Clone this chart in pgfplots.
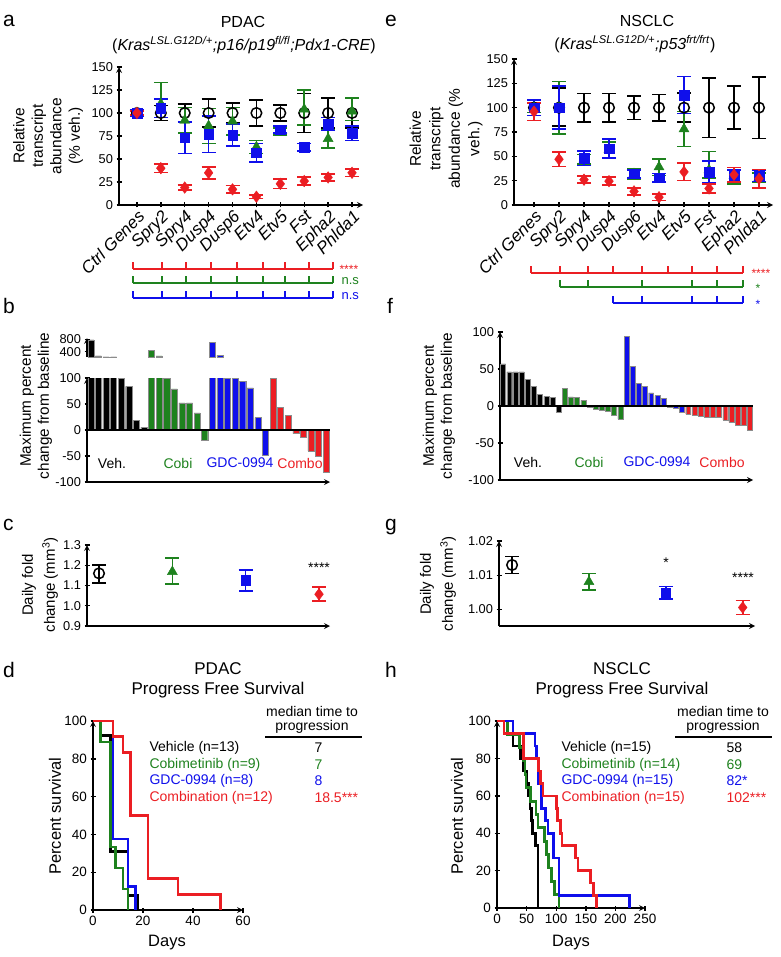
\documentclass[border=0pt]{standalone}
\usepackage{fontspec}
\setmainfont{Liberation Sans}
\usepackage{pgfplots}
\pgfplotsset{compat=1.18}
\definecolor{pgreen}{RGB}{30,130,30}
\definecolor{pblue}{RGB}{15,15,235}
\definecolor{pred}{RGB}{235,30,35}
\newcommand{\fz}[1]{\fontsize{#1}{#1}\selectfont}
\pgfplotsset{
  base/.style={
    scale only axis, anchor=south west,
    axis line style={-, line width=1.6pt},
    tick align=outside, major tick length=5pt,
    every tick/.style={black, line width=1.4pt},
    tick label style={font=\fontsize{12.8}{14}\selectfont},
    /pgf/number format/assume math mode=true,
  },
  errst/.style={/pgfplots/error bars/y dir=both, /pgfplots/error bars/y explicit,
    /pgfplots/error bars/error bar style={line width=1.6pt,#1},
    /pgfplots/error bars/error mark options={rotate=90, mark size=7pt, line width=1.6pt, #1}},
  veh/.style={only marks, mark=o, black, mark size=5.3pt, line width=1.5pt, errst=black},
  cobi/.style={only marks, mark=triangle*, pgreen, mark size=5.8pt, errst=pgreen},
  gdc/.style={only marks, mark=square*, pblue, mark size=4.8pt, errst=pblue},
  combo/.style={only marks, mark=diamond*, pred, mark size=5.8pt, errst=pred},
  bars/.style={ybar, bar width=0.8, bar shift=0pt, fill=#1, draw=black!45, line width=0.4pt},
  km/.style={const plot, line width=2.6pt, #1, mark=none},
  catlab/.style={xtick={0,...,9}, xticklabels={Ctrl Genes,Spry2,Spry4,Dusp4,Dusp6,Etv4,Etv5,Fst,Epha2,Phlda1},
    xticklabel style={rotate=45, anchor=north east, inner sep=1pt, font=\fontsize{17}{17}\selectfont\itshape}},
}
\begin{document}
\begin{tikzpicture}
% ---------------- panel a ----------------
\begin{axis}[base, axis lines=left, at={(119pt,-205pt)}, width=244pt, height=138pt,
  xmin=-0.75, xmax=9.46, ymin=0, ymax=150, ytick={0,25,...,150}, catlab]
\addplot[veh] coordinates {(0,100) +- (0,2) (1,100) +- (0,8) (2,100) +- (0,10) (3,100) +- (0,15) (4,100) +- (0,11) (5,100) +- (0,14) (6,100) +- (0,9) (7,100) +- (0,21) (8,100) +- (0,16) (9,100) +- (0,16)};
\addplot[cobi] coordinates {(0,100) +- (0,2) (1,110) += (0,23) -= (0,15) (2,92) +- (0,14) (3,86) +- (0,19) (4,91) +- (0,15) (5,63) +- (0,7) (6,80) +- (0,4) (7,104) += (0,21) -= (0,17) (8,72) +- (0,10) (9,102) += (0,14) -= (0,10)};
\addplot[gdc] coordinates {(0,100) +- (0,3) (1,105) +- (0,10) (2,73) +- (0,17) (3,77) +- (0,20) (4,76) +- (0,12) (5,57) +- (0,10) (6,82) +- (0,4) (7,63) +- (0,4) (8,88) +- (0,7) (9,78) +- (0,8)};
\addplot[combo] coordinates {(0,100) +- (0,2) (1,40) +- (0,4.5) (2,19) +- (0,3) (3,35) +- (0,6.5) (4,17) +- (0,4) (5,9) +- (0,2) (6,23) +- (0,5) (7,26) +- (0,4.5) (8,30) +- (0,4) (9,35) +- (0,4)};
\end{axis}
% ---------------- panel e ----------------
\begin{axis}[base, axis lines=left, at={(514pt,-205pt)}, width=259pt, height=146pt,
  xmin=-0.8, xmax=9.56, ymin=0, ymax=150, ytick={0,25,...,150}, catlab]
\addplot[veh] coordinates {(0,100) +- (0,8) (1,100) += (0,20) -= (0,19) (2,100) +- (0,14.5) (3,100) +- (0,14.5) (4,100) +- (0,12) (5,100) +- (0,13.5) (6,100) +- (0,15) (7,100) +- (0,30.5) (8,100) +- (0,22) (9,100) +- (0,31.5)};
\addplot[cobi] coordinates {(0,100) +- (0,5) (1,100) +- (0,27) (2,47) +- (0,5) (3,57) +- (0,8) (4,32) +- (0,5.5) (5,39) +- (0,8.5) (6,78) +- (0,18) (7,36) += (0,19) -= (0,8) (8,30) +- (0,8.5) (9,28) +- (0,5)};
\addplot[gdc] coordinates {(0,100) +- (0,8) (1,100) +- (0,22) (2,48) +- (0,7.5) (3,58) +- (0,10) (4,32) +- (0,4) (5,28) +- (0,4.5) (6,113) +- (0,19) (7,34) +- (0,11) (8,30) +- (0,6) (9,30) +- (0,6)};
\addplot[combo] coordinates {(0,96) +- (0,9) (1,47) +- (0,7.5) (2,26) +- (0,3.5) (3,24.5) +- (0,4) (4,14) +- (0,3.5) (5,8) +- (0,3.5) (6,34) +- (0,9) (7,17) +- (0,4.5) (8,31) +- (0,7.5) (9,27) +- (0,9.5)};
\end{axis}
% ---------------- panel b ----------------
\begin{axis}[base, axis lines=left, at={(87pt,-482pt)}, width=243pt, height=104pt,
  xmin=-0.5, xmax=31.5, ymin=-100, ymax=100, ytick={-100,-50,0,50,100},
  yticklabels={-100,-50,0,50,100}, xtick=\empty]
\addplot[bars=black] coordinates {(0,780) (1,270) (2,255) (3,255) (4,100) (5,84) (6,18) (7,5)};
\addplot[bars=pgreen] coordinates {(8,450) (9,270) (10,100) (11,79) (12,52) (13,52) (14,33) (15,-20)};
\addplot[bars=pblue] coordinates {(16,710) (17,280) (18,100) (19,100) (20,93) (21,81) (22,24) (23,-48)};
\addplot[bars=pred] coordinates {(24,100) (25,43) (26,28) (27,-7) (28,-13) (29,-40) (30,-50) (31,-82)};
\draw[line width=1.6pt] (axis cs:-0.5,0) -- (axis cs:31.5,0);
\end{axis}
\begin{axis}[base, axis y line=left, axis x line=none, at={(87pt,-357pt)}, width=243pt, height=19pt,
  xmin=-0.5, xmax=31.5, ymin=230, ymax=840, ytick={400,800}, xtick=\empty]
\addplot[bars=black] coordinates {(0,780) (1,270) (2,236) (3,236)};
\addplot[bars=pgreen] coordinates {(8,450) (9,270)};
\addplot[bars=pblue] coordinates {(16,710) (17,280)};
\end{axis}
% ---------------- panel f ----------------
\begin{axis}[base, axis lines=left, at={(500pt,-480pt)}, width=253pt, height=148pt,
  xmin=-0.5, xmax=40.5, ymin=-100, ymax=100, ytick={-100,-50,0,50,100},
  yticklabels={-100,-50,0,50,100}, xtick=\empty]
\addplot[bars=black] coordinates {(0,57) (1,46) (2,46) (3,46) (4,36) (5,27) (6,15.5) (7,13) (8,11.5) (9,-9)};
\addplot[bars=pgreen] coordinates {(10,24) (11,12.4) (12,12) (13,7.5) (14,-1.8) (15,-4.5) (16,-5.5) (17,-7) (18,-12.4) (19,-17.8)};
\addplot[bars=pblue] coordinates {(20,94) (21,54) (22,31) (23,27) (24,17.8) (25,14) (26,10) (27,-1) (28,-3.5) (29,-8)};
\addplot[bars=pred] coordinates {(30,-11) (31,-12.4) (32,-13.3) (33,-15) (34,-15.5) (35,-15.5) (36,-18.7) (37,-22) (38,-25.8) (39,-25.8) (40,-33)};
\draw[line width=1.6pt] (axis cs:-0.5,0) -- (axis cs:40.5,0);
\end{axis}
% ---------------- panel c ----------------
\begin{axis}[base, axis lines=left, at={(87pt,-626pt)}, width=243pt, height=81pt,
  xmin=-0.164, xmax=3.15, ymin=0.9, ymax=1.3, ytick={0.9,1.0,1.1,1.2,1.3},
  yticklabels={0.9,1.0,1.1,1.2,1.3}, xtick=\empty]
\addplot[veh] coordinates {(0,1.16) += (0,0.04) -= (0,0.047)};
\addplot[cobi] coordinates {(1,1.168) += (0,0.068) -= (0,0.061)};
\addplot[gdc] coordinates {(2,1.126) += (0,0.05) -= (0,0.052)};
\addplot[combo] coordinates {(3,1.057) += (0,0.035) -= (0,0.033)};
\end{axis}
% ---------------- panel g ----------------
\begin{axis}[base, axis lines=left, at={(499pt,-626pt)}, width=256pt, height=85pt,
  xmin=-0.17, xmax=3.16, ymin=0.9952, ymax=1.02, ytick={1.00,1.01,1.02},
  yticklabels={1.00,1.01,1.02}, xtick=\empty]
\addplot[veh] coordinates {(0,1.013) +- (0,0.0025)};
\addplot[cobi] coordinates {(1,1.0081) +- (0,0.0024)};
\addplot[gdc] coordinates {(2,1.0049) +- (0,0.0018)};
\addplot[combo] coordinates {(3,1.0006) +- (0,0.002)};
\end{axis}
% ---------------- panel d ----------------
\begin{axis}[base, axis lines=left, at={(93pt,-910pt)}, width=150pt, height=189pt,
  xmin=0, xmax=60, ymin=0, ymax=100, xtick={0,20,40,60}, ytick={0,20,...,100}, clip=false,
  tick label style={font=\fontsize{13.5}{14}\selectfont}]
\addplot[km=black] coordinates {(0,100) (3,92.3) (7,30.8) (14,7.7) (18,0)};
\addplot[km=pgreen] coordinates {(0,100) (3,88.9) (7,33.3) (9,22.2) (12,11.1) (14,0)};
\addplot[km=pblue] coordinates {(0,100) (8,37.5) (14,12.5) (17,0)};
\addplot[km=pred] coordinates {(0,100) (8,91.7) (12,83.3) (15,50) (22,16.7) (34,8.3) (51,0)};
\end{axis}
% ---------------- panel h ----------------
\begin{axis}[base, axis lines=left, at={(497pt,-908pt)}, width=148pt, height=187pt,
  xmin=0, xmax=250, ymin=0, ymax=100, xtick={0,50,...,250}, ytick={0,20,...,100}, clip=false,
  tick label style={font=\fontsize{13.5}{14}\selectfont}]
\addplot[km=black] coordinates {(0,100) (17,93.3) (27,86.7) (40,80) (45,73.3) (50,66.7) (53,60) (56,53.3) (58,46.7) (60,40) (65,33.3) (69,0)};
\addplot[km=pgreen] coordinates {(0,100) (18,92.9) (38,85.7) (44,78.6) (47,71.4) (49,64.3) (57,57.1) (66,50) (69,42.9) (80,35.7) (84,28.6) (87,21.4) (92,14.3) (97,7.1) (105,0)};
\addplot[km=pblue] coordinates {(0,100) (27,93.3) (64,86.7) (67,80) (70,66.7) (75,53.3) (82,46.7) (86,40) (95,26.7) (105,6.7) (224,0)};
\addplot[km=pred] coordinates {(0,100) (12,93.3) (45,80) (70,73.3) (73,66.7) (78,60) (100,53.3) (102,46.7) (107,40) (110,33.3) (133,26.7) (137,20) (158,13.3) (163,6.7) (168,0)};
\end{axis}
% ---------------- texts ----------------
\foreach \l/\x/\y in {a/3/27, e/385/27, b/3/313, f/387/313, c/3/530, g/385/530, d/3/677, h/385/677}
  \node[anchor=base west, inner sep=0pt, font=\fz{21}] at (\x pt,-\y pt) {\l};
% titles a / e
\node[font=\fz{16}] at (243pt,-22pt) {PDAC};
\node[font=\fz{16}] at (244pt,-45pt) {(\textit{Kras}\textsuperscript{\textit{LSL.G12D/+}}\textit{;p16/p19}\textsuperscript{\textit{fl/fl}}\textit{;Pdx1-CRE})};
\node[font=\fz{16}] at (647pt,-21pt) {NSCLC};
\node[font=\fz{16}] at (635pt,-44pt) {(\textit{Kras}\textsuperscript{\textit{LSL.G12D/+}}\textit{;p53}\textsuperscript{\textit{frt/frt}})};
% y labels
\node[rotate=90, align=center, font=\fontsize{15.5}{18.5}\selectfont] at (48pt,-136pt) {Relative\\transcript\\abundance\\(\% veh.)};
\node[rotate=90, align=center, font=\fontsize{15.5}{19.5}\selectfont] at (446pt,-139pt) {Relative\\transcript\\abundance (\%\\veh.)};
\node[rotate=90, align=center, font=\fontsize{15.3}{18}\selectfont] at (36pt,-406pt) {Maximum percent\\change from baseline};
\node[rotate=90, align=center, font=\fontsize{15.3}{18}\selectfont] at (439pt,-406pt) {Maximum percent\\change from baseline};
\node[rotate=90, align=center, font=\fontsize{15}{22}\selectfont] at (40pt,-585pt) {Daily fold\\change (mm\textsuperscript{3})};
\node[rotate=90, align=center, font=\fontsize{15}{22}\selectfont] at (438pt,-584pt) {Daily fold\\change (mm\textsuperscript{3})};
\node[rotate=90, font=\fz{16.5}] at (55pt,-816pt) {Percent survival};
\node[rotate=90, font=\fz{16.5}] at (457pt,-816pt) {Percent survival};
\node[font=\fz{16.5}] at (167pt,-943pt) {Days};
\node[font=\fz{16.5}] at (571pt,-943pt) {Days};
% brackets a
\foreach \yy/\cc in {269/pred, 283/pgreen, 298/pblue}{
  \draw[\cc, line width=1.3pt] (133pt,-\yy pt) -- (333pt,-\yy pt);
  \foreach \xx in {133,162,186,211,237,263,285,309,333}
    \draw[\cc, line width=1.3pt] (\xx pt,-\yy pt) -- (\xx pt,-\yy pt+7pt);
}
\node[pred, anchor=west, font=\fz{12}] at (336pt,-269pt) {****};
\node[pgreen, anchor=west, font=\fz{13}] at (338pt,-281pt) {n.s};
\node[pblue, anchor=west, font=\fz{13}] at (338pt,-296pt) {n.s};
% brackets e
\draw[pred, line width=1.3pt] (531pt,-273pt) -- (743pt,-273pt);
\foreach \xx in {531,560,588,613,642,668,692,717,743}
  \draw[pred, line width=1.3pt] (\xx pt,-273pt) -- (\xx pt,-266pt);
\draw[pgreen, line width=1.3pt] (560pt,-287pt) -- (743pt,-287pt);
\foreach \xx in {560,588,642,692,717,743}
  \draw[pgreen, line width=1.3pt] (\xx pt,-287pt) -- (\xx pt,-280pt);
\draw[pblue, line width=1.3pt] (613pt,-303pt) -- (743pt,-303pt);
\foreach \xx in {613,642,692,717,743}
  \draw[pblue, line width=1.3pt] (\xx pt,-303pt) -- (\xx pt,-296pt);
\node[pred, anchor=west, font=\fz{12}] at (748pt,-273pt) {****};
\node[pgreen, anchor=west, font=\fz{12}] at (752pt,-288pt) {*};
\node[pblue, anchor=west, font=\fz{12}] at (752pt,-304pt) {*};
% b / f group names
\node[font=\fz{14}] at (112pt,-463pt) {Veh.};
\node[pgreen, font=\fz{14}] at (178pt,-463pt) {Cobi};
\node[pblue, font=\fz{14}] at (240pt,-463pt) {GDC-0994};
\node[pred, font=\fz{14}] at (300pt,-463pt) {Combo};
\node[font=\fz{14}] at (528pt,-462pt) {Veh.};
\node[pgreen, font=\fz{14}] at (589pt,-462pt) {Cobi};
\node[pblue, font=\fz{14}] at (657pt,-462pt) {GDC-0994};
\node[pred, font=\fz{14}] at (722pt,-462pt) {Combo};
% c / g stars
\node[font=\fz{14}] at (319pt,-568pt) {****};
\node[font=\fz{14}] at (666pt,-563pt) {*};
\node[font=\fz{14}] at (743pt,-578pt) {****};
% d titles and legend
\node[font=\fz{17}] at (218pt,-669pt) {PDAC};
\node[font=\fz{17}] at (218pt,-690pt) {Progress Free Survival};
\node[font=\fz{14}] at (312pt,-711pt) {median time to};
\node[font=\fz{14}] at (312pt,-727pt) {progression};
\draw[line width=2.5pt] (265pt,-737pt) -- (362pt,-737pt);
\node[anchor=west, font=\fz{14}] at (146pt,-748pt) {Vehicle (n=13)};
\node[anchor=west, pgreen, font=\fz{14}] at (146pt,-765pt) {Cobimetinib (n=9)};
\node[anchor=west, pblue, font=\fz{14}] at (146pt,-781pt) {GDC-0994 (n=8)};
\node[anchor=west, pred, font=\fz{14}] at (146pt,-798pt) {Combination (n=12)};
\node[anchor=west, font=\fz{14}] at (311pt,-748pt) {7};
\node[anchor=west, pgreen, font=\fz{14}] at (311pt,-765pt) {7};
\node[anchor=west, pblue, font=\fz{14}] at (311pt,-781pt) {8};
\node[anchor=west, pred, font=\fz{14}] at (311pt,-798pt) {18.5***};
% h titles and legend
\node[font=\fz{17}] at (622pt,-669pt) {NSCLC};
\node[font=\fz{17}] at (622pt,-690pt) {Progress Free Survival};
\node[font=\fz{14}] at (723pt,-711pt) {median time to};
\node[font=\fz{14}] at (723pt,-727pt) {progression};
\draw[line width=2.5pt] (675pt,-737pt) -- (772pt,-737pt);
\node[anchor=west, font=\fz{14}] at (558pt,-748pt) {Vehicle (n=15)};
\node[anchor=west, pgreen, font=\fz{14}] at (558pt,-765pt) {Cobimetinib (n=14)};
\node[anchor=west, pblue, font=\fz{14}] at (558pt,-781pt) {GDC-0994 (n=15)};
\node[anchor=west, pred, font=\fz{14}] at (558pt,-798pt) {Combination (n=15)};
\node[anchor=west, font=\fz{14}] at (723pt,-748pt) {58};
\node[anchor=west, pgreen, font=\fz{14}] at (723pt,-765pt) {69};
\node[anchor=west, pblue, font=\fz{14}] at (723pt,-781pt) {82*};
\node[anchor=west, pred, font=\fz{14}] at (723pt,-798pt) {102***};
\pgfresetboundingbox
\path[use as bounding box] (0pt,0pt) rectangle (780pt,-957pt);
\end{tikzpicture}
\end{document}
